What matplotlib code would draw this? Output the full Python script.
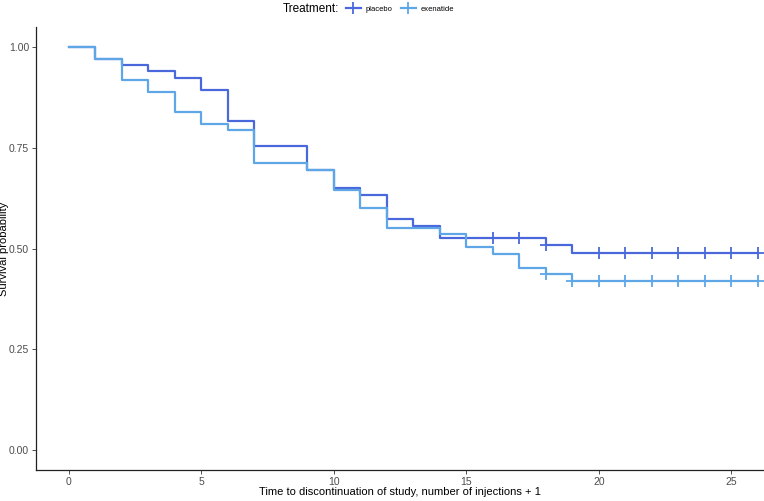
import numpy as np
import matplotlib
matplotlib.use("Agg")
from matplotlib import pyplot as plt
from matplotlib.lines import Line2D

plt.rcParams['font.family'] = ['Liberation Sans', 'DejaVu Sans']

# Kaplan-Meier step values (value from time t onwards)
time = np.arange(0, 27)
placebo_surv = [1.000, 0.970, 0.955, 0.940, 0.924, 0.894, 0.817, 0.755, 0.755,
                0.694, 0.650, 0.632, 0.573, 0.555, 0.525, 0.525, 0.525, 0.525,
                0.508, 0.490, 0.490, 0.490, 0.490, 0.490, 0.490, 0.490, 0.490]
exenatide_surv = [1.000, 0.970, 0.918, 0.889, 0.840, 0.809, 0.795, 0.712, 0.712,
                  0.694, 0.646, 0.600, 0.551, 0.551, 0.535, 0.503, 0.486, 0.452,
                  0.436, 0.419, 0.419, 0.419, 0.419, 0.419, 0.419, 0.419, 0.419]
placebo_censor = [16, 17, 18, 20, 21, 22, 23, 24, 25, 26]
exenatide_censor = [18, 19, 20, 21, 22, 23, 24, 25, 26]

groups = ["placebo", "exenatide"]
colors = ["#4a68dc", "#5fa6e6"]

fig = plt.figure(figsize=(7.64, 5.01), dpi=100)
ax = fig.add_axes([36 / 764, 1 - 470 / 501, 728 / 764, 443 / 501])

for surv, cens, col in [(placebo_surv, placebo_censor, colors[0]),
                        (exenatide_surv, exenatide_censor, colors[1])]:
    surv = np.array(surv)
    ax.step(time, surv, where="post", color=col, lw=1.6)
    ax.plot(cens, surv[cens], ls="none", marker="+", ms=8, mew=1.3, color=col)

ax.set_xlim(-1.245, 26.23)
ax.set_ylim(-0.05, 1.05)
ax.set_xticks([0, 5, 10, 15, 20, 25])
ax.set_yticks([0, 0.25, 0.5, 0.75, 1.0])
ax.set_yticklabels(["0.00", "0.25", "0.50", "0.75", "1.00"])
ax.tick_params(labelsize=7.5, length=3, width=0.6, pad=2,
               colors="#333333", labelcolor="#4d4d4d")
for s in ["top", "right"]:
    ax.spines[s].set_visible(False)
for s in ["left", "bottom"]:
    ax.spines[s].set_linewidth(0.9)
    ax.spines[s].set_color("#222222")

ax.set_xlabel("Time to discontinuation of study, number of injections + 1", fontsize=8)
ax.set_ylabel("Survival probability", fontsize=8)
ax.xaxis.set_label_coords(0.5, -0.038)
ax.yaxis.set_label_coords(-0.037, 0.5)

# legend on top, ggplot style
fig.text(283 / 764, 1 - 9 / 501, "Treatment:", fontsize=8.5, va="center", ha="left")
handles = [Line2D([0], [0], color=c, lw=1.6, marker="+", ms=8, mew=1.3) for c in colors]
fig.legend(handles, groups, ncol=2, loc="center left", frameon=False,
           bbox_to_anchor=(346 / 764, 1 - 9 / 501), fontsize=5.5,
           handlelength=1.9, handletextpad=0.6, columnspacing=1.2,
           borderaxespad=0, borderpad=0)

fig.savefig("out.png", dpi=100)
